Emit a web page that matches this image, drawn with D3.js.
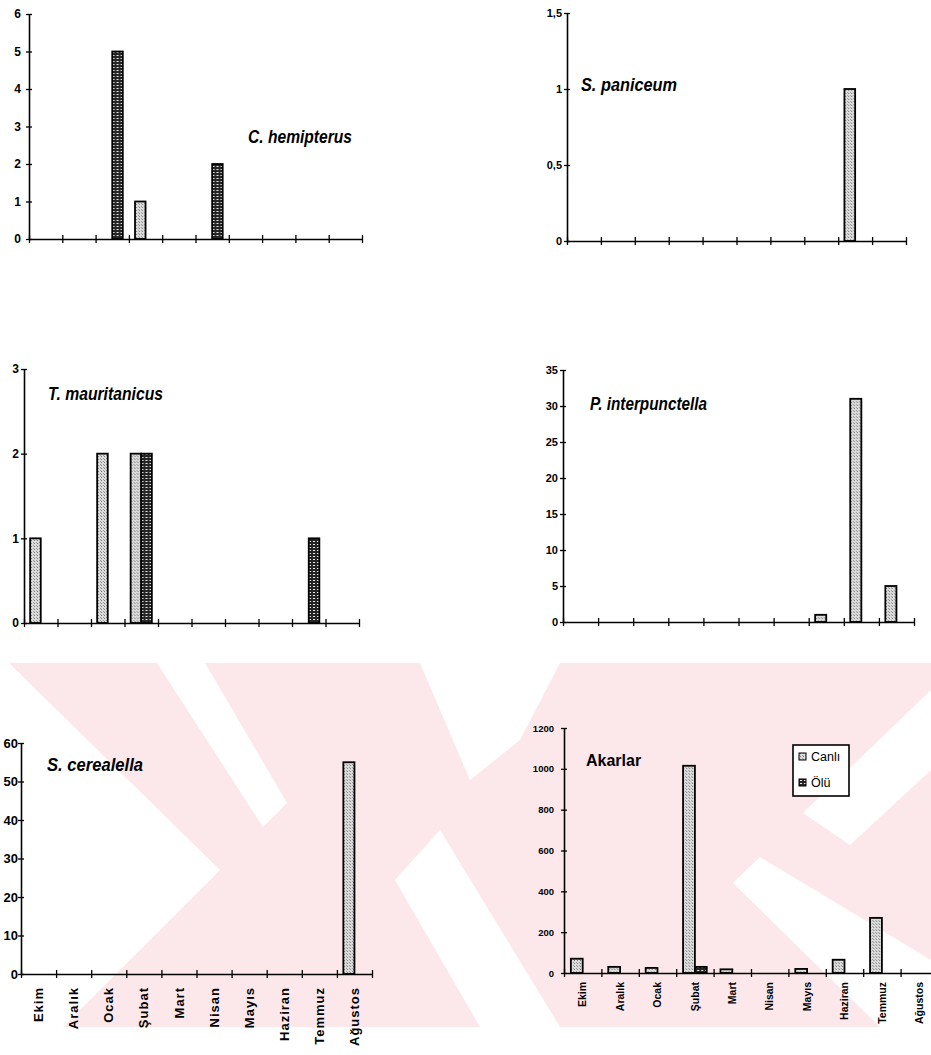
<!DOCTYPE html>
<html lang="tr">
<head>
<meta charset="utf-8">
<title>Aylara göre böcek sayıları</title>
<script src="https://d3js.org/d3.v7.min.js"></script>
<style>
  body { margin: 0; background: #fff; }
  svg { display: block; }
  .axis path, .axis line { stroke: #000; }
  .axis text { font-family: "Liberation Sans", Arial, sans-serif; font-weight: bold; fill: #000; }
  .title { font-family: "Liberation Sans", Arial, sans-serif; font-weight: bold; font-style: italic; fill: #000; }
  .legend text { font-family: "Liberation Sans", Arial, sans-serif; font-size: 12.5px; fill: #000; }
</style>
</head>
<body>
<script>
// months on the x axis (no Kasım in the source)
var months = ["Ekim", "Aralık", "Ocak", "Şubat", "Mart", "Nisan", "Mayıs", "Haziran", "Temmuz", "Ağustos"];
var seriesNames = ["Canlı", "Ölü"];

// values per month: Canlı / Ölü
var hemipterusCanli = [0, 0, 0, 1, 0, 0, 0, 0, 0, 0];
var hemipterusOlu   = [0, 0, 5, 0, 0, 2, 0, 0, 0, 0];
var paniceumCanli   = [0, 0, 0, 0, 0, 0, 0, 0, 1, 0];
var paniceumOlu     = [0, 0, 0, 0, 0, 0, 0, 0, 0, 0];
var mauritanicusCanli = [1, 0, 2, 2, 0, 0, 0, 0, 0, 0];
var mauritanicusOlu   = [0, 0, 0, 2, 0, 0, 0, 0, 1, 0];
var interpunctellaCanli = [0, 0, 0, 0, 0, 0, 0, 1, 31, 5];
var interpunctellaOlu   = [0, 0, 0, 0, 0, 0, 0, 0, 0, 0];
var cerealellaCanli = [0, 0, 0, 0, 0, 0, 0, 0, 0, 55];
var cerealellaOlu   = [0, 0, 0, 0, 0, 0, 0, 0, 0, 0];
var akarlarCanli = [70, 30, 25, 1015, 18, 0, 20, 65, 270, 0];
var akarlarOlu   = [0, 0, 0, 30, 0, 0, 0, 0, 0, 0];

// y tick values and their labels
var hemipterusTicks = [0, 1, 2, 3, 4, 5, 6];
var paniceumTicks = [0, 0.5, 1, 1.5];
var paniceumLabels = ["0", "0,5", "1", "1,5"];
var mauritanicusTicks = [0, 1, 2, 3];
var interpunctellaTicks = [0, 5, 10, 15, 20, 25, 30, 35];
var cerealellaTicks = [0, 10, 20, 30, 40, 50, 60];
var akarlarTicks = [0, 200, 400, 600, 800, 1000, 1200];

var width = 931, height = 1055;

var svg = d3.select("body").append("svg")
  .attr("width", width)
  .attr("height", height);

svg.append("rect").attr("width", width).attr("height", height).attr("fill", "#fff");

// ---- faint pink watermark of the scanned page ----
var wm = svg.append("g").attr("class", "watermark");
wm.append("rect").attr("x", 0).attr("y", 663).attr("width", width).attr("height", 364).attr("fill", "#fce8eb");
var wmCuts = [
  [[0, 663], [9, 663], [220, 870], [63, 1027], [0, 1027]],
  [[157, 663], [205, 663], [287, 803], [263, 827]],
  [[420, 663], [560, 663], [520, 740], [470, 780]],
  [[395, 880], [440, 830], [560, 1027], [480, 1027]],
  [[733, 883], [760, 857], [931, 960], [931, 1027], [880, 1027]],
  [[803, 813], [931, 690], [931, 770], [850, 845]]
];
wm.selectAll("polygon").data(wmCuts).enter().append("polygon")
  .attr("points", function(d) { return d.map(function(p) { return p.join(","); }).join(" "); })
  .attr("fill", "#fff");

// ---- bar fill patterns ----
var defs = svg.append("defs");
var pCanli = defs.append("pattern").attr("id", "fillCanli")
  .attr("patternUnits", "userSpaceOnUse").attr("width", 3).attr("height", 3);
pCanli.append("rect").attr("width", 3).attr("height", 3).attr("fill", "#dcdcdc");
pCanli.append("rect").attr("x", 1).attr("y", 0).attr("width", 1).attr("height", 1).attr("fill", "#7a7a7a");
pCanli.append("rect").attr("x", 0).attr("y", 2).attr("width", 1).attr("height", 1).attr("fill", "#9a9a9a");

var pOlu = defs.append("pattern").attr("id", "fillOlu")
  .attr("patternUnits", "userSpaceOnUse").attr("width", 4).attr("height", 3);
pOlu.append("rect").attr("width", 4).attr("height", 3).attr("fill", "#262626");
pOlu.append("rect").attr("x", 1).attr("y", 1).attr("width", 2).attr("height", 1).attr("fill", "#e8e8e8");

var fills = { "Canlı": "url(#fillCanli)", "Ölü": "url(#fillOlu)" };

// ---- panel layout ----
var panels = [
  { title: "C. hemipterus", canli: hemipterusCanli, olu: hemipterusOlu, ticks: hemipterusTicks,
    x0: 29, x1: 362, y0: 239, yTop: 14, tickFont: 12, tickGap: 8,
    tx: 248, ty: 143, tw: 104, tsize: 19 },
  { title: "S. paniceum", canli: paniceumCanli, olu: paniceumOlu, ticks: paniceumTicks, labels: paniceumLabels,
    x0: 567, x1: 906, y0: 241, yTop: 13, tickFont: 11, tickGap: 5,
    tx: 581, ty: 91, tw: 96, tsize: 18 },
  { title: "T. mauritanicus", canli: mauritanicusCanli, olu: mauritanicusOlu, ticks: mauritanicusTicks,
    x0: 24, x1: 359, y0: 623, yTop: 369, tickFont: 12, tickGap: 5,
    tx: 48, ty: 400, tw: 115, tsize: 18 },
  { title: "P. interpunctella", canli: interpunctellaCanli, olu: interpunctellaOlu, ticks: interpunctellaTicks,
    x0: 563, x1: 914, y0: 622, yTop: 370, tickFont: 11, tickGap: 5,
    tx: 590, ty: 410, tw: 117, tsize: 18 },
  { title: "S. cerealella", canli: cerealellaCanli, olu: cerealellaOlu, ticks: cerealellaTicks,
    x0: 21, x1: 372, y0: 974, yTop: 743, tickFont: 13, tickGap: 3,
    tx: 47, ty: 771, tw: 96, tsize: 19, monthFont: 13, monthGap: 13, monthSpacing: 1 },
  { title: "Akarlar", canli: akarlarCanli, olu: akarlarOlu, ticks: akarlarTicks, plain: true,
    x0: 564, x1: 938, y0: 973, yTop: 728, tickFont: 9.5, tickGap: 10,
    tx: 586, ty: 766, tsize: 16, monthFont: 10.5, monthGap: 9, monthSpacing: 0, legend: true }
];

panels.forEach(drawPanel);

function drawPanel(p) {
  var g = svg.append("g");
  var yMax = p.ticks[p.ticks.length - 1];
  var y = d3.scaleLinear().domain([0, yMax]).range([p.y0, p.yTop]);
  var x = d3.scaleBand().domain(months).range([p.x0, p.x1]);
  var xs = d3.scaleBand().domain(seriesNames).range([0, x.bandwidth()]).paddingOuter(0.58);
  var edges = d3.scaleLinear().domain([0, months.length]).range([p.x0, p.x1]);

  var rows = months.map(function(m, i) {
    return { month: m, values: [{ s: "Canlı", v: p.canli[i] }, { s: "Ölü", v: p.olu[i] }] };
  });

  // bars
  g.selectAll("g.month").data(rows).enter().append("g")
    .attr("class", "month")
    .attr("transform", function(d) { return "translate(" + x(d.month) + ",0)"; })
    .selectAll("rect")
    .data(function(d) { return d.values.filter(function(v) { return v.v > 0; }); })
    .enter().append("rect")
    .attr("x", function(d) { return xs(d.s); })
    .attr("y", function(d) { return y(d.v); })
    .attr("width", xs.bandwidth())
    .attr("height", function(d) { return p.y0 - y(d.v); })
    .attr("fill", function(d) { return fills[d.s]; })
    .attr("stroke", "#000")
    .attr("stroke-width", 1.8);

  // y axis, ticks crossing the line
  var fmt = p.labels ? function(d, i) { return p.labels[i]; } : d3.format("d");
  var ya = g.append("g").attr("class", "axis")
    .attr("transform", "translate(" + p.x0 + ",0)")
    .call(d3.axisLeft(y).tickValues(p.ticks).tickFormat(fmt).tickSize(3).tickSizeOuter(0));
  ya.select(".domain").attr("stroke-width", 1.6);
  ya.selectAll(".tick line").attr("x1", 3).attr("stroke-width", 1.3);
  ya.selectAll(".tick text").attr("x", -p.tickGap).style("font-size", p.tickFont + "px");

  // x axis, ticks at category edges
  var xa = g.append("g").attr("class", "axis")
    .attr("transform", "translate(0," + p.y0 + ")")
    .call(d3.axisBottom(edges).tickValues(d3.range(months.length + 1)).tickFormat("").tickSize(4).tickSizeOuter(0));
  xa.select(".domain").attr("stroke-width", 1.6);
  xa.selectAll(".tick line").attr("y1", -4).attr("stroke-width", 1.3);

  // month names for the bottom row
  if (p.monthFont) {
    var ma = g.append("g").attr("class", "axis")
      .attr("transform", "translate(0," + p.y0 + ")")
      .call(d3.axisBottom(x).tickSize(0).tickSizeOuter(0));
    ma.select(".domain").remove();
    ma.selectAll(".tick text")
      .style("font-size", p.monthFont + "px")
      .style("letter-spacing", p.monthSpacing + "px")
      .attr("text-anchor", "end")
      .attr("dy", "0.35em")
      .attr("y", 0)
      .attr("transform", "translate(0," + p.monthGap + ") rotate(-90)");
  }

  // title inside the plot
  var t = g.append("text")
    .attr("class", "title")
    .attr("x", p.tx)
    .attr("y", p.ty)
    .style("font-size", p.tsize + "px")
    .text(p.title);
  if (p.plain) t.style("font-style", "normal");
  if (p.tw) t.attr("textLength", p.tw).attr("lengthAdjust", "spacingAndGlyphs");

  if (p.legend) {
    var lg = g.append("g").attr("class", "legend");
    lg.append("rect")
      .attr("x", 793).attr("y", 745).attr("width", 56).attr("height", 51)
      .attr("fill", "#fff").attr("stroke", "#000").attr("stroke-width", 1.6);
    var items = lg.selectAll("g.item").data(seriesNames).enter().append("g")
      .attr("class", "item")
      .attr("transform", function(d, i) { return "translate(799," + (753 + i * 26) + ")"; });
    items.append("rect").attr("width", 7).attr("height", 7)
      .attr("fill", function(d) { return fills[d]; })
      .attr("stroke", "#000").attr("stroke-width", 1);
    items.append("text").attr("x", 12).attr("y", 8).text(function(d) { return d; });
  }
}
</script>
</body>
</html>
